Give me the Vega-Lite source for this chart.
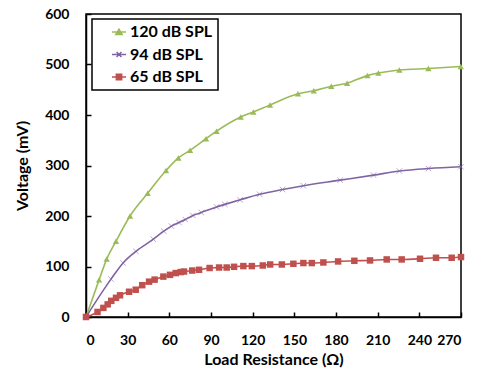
{
  "$schema": "https://vega.github.io/schema/vega-lite/v6.json",
  "width": 375,
  "height": 303,
  "autosize": {"type": "none"},
  "padding": {"left": 86, "top": 14, "right": 20, "bottom": 57},
  "background": "white",
  "config": {
    "font": "Lato",
    "view": {"stroke": "black", "strokeWidth": 1.5},
    "axis": {
      "grid": false,
      "domainColor": "black",
      "domainWidth": 1.5,
      "tickColor": "black",
      "tickWidth": 1.5,
      "tickSize": -5,
      "labelFont": "Lato",
      "labelFontWeight": "bold",
      "labelFontSize": 14,
      "labelColor": "black",
      "titleFont": "Lato",
      "titleFontWeight": "bold",
      "titleFontSize": 16,
      "titleColor": "black"
    }
  },
  "data": {
    "values": [
      {"R": 0, "V": 0, "series": "120 dB SPL"},
      {"R": 9.4, "V": 73.5, "series": "120 dB SPL"},
      {"R": 14.9, "V": 114.7, "series": "120 dB SPL"},
      {"R": 21.6, "V": 150, "series": "120 dB SPL"},
      {"R": 31.7, "V": 200, "series": "120 dB SPL"},
      {"R": 44.4, "V": 245, "series": "120 dB SPL"},
      {"R": 57.6, "V": 290, "series": "120 dB SPL"},
      {"R": 66.5, "V": 315, "series": "120 dB SPL"},
      {"R": 74.9, "V": 330, "series": "120 dB SPL"},
      {"R": 86.4, "V": 353, "series": "120 dB SPL"},
      {"R": 94, "V": 368, "series": "120 dB SPL"},
      {"R": 111.4, "V": 396, "series": "120 dB SPL"},
      {"R": 120.5, "V": 406, "series": "120 dB SPL"},
      {"R": 132.5, "V": 420, "series": "120 dB SPL"},
      {"R": 152.6, "V": 442, "series": "120 dB SPL"},
      {"R": 164, "V": 448, "series": "120 dB SPL"},
      {"R": 176.6, "V": 457, "series": "120 dB SPL"},
      {"R": 188, "V": 463, "series": "120 dB SPL"},
      {"R": 202.6, "V": 478, "series": "120 dB SPL"},
      {"R": 210.5, "V": 483, "series": "120 dB SPL"},
      {"R": 225.6, "V": 489, "series": "120 dB SPL"},
      {"R": 246.5, "V": 492, "series": "120 dB SPL"},
      {"R": 269.8, "V": 496, "series": "120 dB SPL"},

      {"R": 0, "V": 0, "series": "94 dB SPL"},
      {"R": 18, "V": 75, "series": "94 dB SPL"},
      {"R": 26.7, "V": 107, "series": "94 dB SPL"},
      {"R": 36, "V": 130, "series": "94 dB SPL"},
      {"R": 48.5, "V": 154, "series": "94 dB SPL"},
      {"R": 56, "V": 170, "series": "94 dB SPL"},
      {"R": 61.5, "V": 180, "series": "94 dB SPL"},
      {"R": 67, "V": 187, "series": "94 dB SPL"},
      {"R": 71.5, "V": 193, "series": "94 dB SPL"},
      {"R": 77, "V": 201, "series": "94 dB SPL"},
      {"R": 83, "V": 207, "series": "94 dB SPL"},
      {"R": 94, "V": 218, "series": "94 dB SPL"},
      {"R": 100, "V": 223, "series": "94 dB SPL"},
      {"R": 111, "V": 232, "series": "94 dB SPL"},
      {"R": 125, "V": 243, "series": "94 dB SPL"},
      {"R": 141.5, "V": 252.5, "series": "94 dB SPL"},
      {"R": 156.5, "V": 260, "series": "94 dB SPL"},
      {"R": 183, "V": 271, "series": "94 dB SPL"},
      {"R": 207, "V": 281, "series": "94 dB SPL"},
      {"R": 225.6, "V": 289, "series": "94 dB SPL"},
      {"R": 246.5, "V": 294, "series": "94 dB SPL"},
      {"R": 270, "V": 297.5, "series": "94 dB SPL"},

      {"R": 0, "V": 0, "series": "65 dB SPL"},
      {"R": 8.3, "V": 10, "series": "65 dB SPL"},
      {"R": 12.5, "V": 18, "series": "65 dB SPL"},
      {"R": 15.6, "V": 25, "series": "65 dB SPL"},
      {"R": 18.2, "V": 32, "series": "65 dB SPL"},
      {"R": 21.6, "V": 38, "series": "65 dB SPL"},
      {"R": 24.5, "V": 43, "series": "65 dB SPL"},
      {"R": 31, "V": 50, "series": "65 dB SPL"},
      {"R": 35.8, "V": 54, "series": "65 dB SPL"},
      {"R": 40.5, "V": 63, "series": "65 dB SPL"},
      {"R": 45.4, "V": 70, "series": "65 dB SPL"},
      {"R": 49.4, "V": 74, "series": "65 dB SPL"},
      {"R": 55.7, "V": 80, "series": "65 dB SPL"},
      {"R": 60.5, "V": 83.5, "series": "65 dB SPL"},
      {"R": 64.6, "V": 87, "series": "65 dB SPL"},
      {"R": 68.2, "V": 89, "series": "65 dB SPL"},
      {"R": 70.6, "V": 90, "series": "65 dB SPL"},
      {"R": 76.5, "V": 92, "series": "65 dB SPL"},
      {"R": 81.4, "V": 93.5, "series": "65 dB SPL"},
      {"R": 89, "V": 97, "series": "65 dB SPL"},
      {"R": 95.8, "V": 98, "series": "65 dB SPL"},
      {"R": 101.3, "V": 98, "series": "65 dB SPL"},
      {"R": 106.6, "V": 99.4, "series": "65 dB SPL"},
      {"R": 113.3, "V": 100.8, "series": "65 dB SPL"},
      {"R": 119.4, "V": 100.8, "series": "65 dB SPL"},
      {"R": 127.3, "V": 102, "series": "65 dB SPL"},
      {"R": 132.6, "V": 104, "series": "65 dB SPL"},
      {"R": 141, "V": 104, "series": "65 dB SPL"},
      {"R": 149.3, "V": 105.4, "series": "65 dB SPL"},
      {"R": 156.5, "V": 106.8, "series": "65 dB SPL"},
      {"R": 162.6, "V": 106.8, "series": "65 dB SPL"},
      {"R": 170.9, "V": 108, "series": "65 dB SPL"},
      {"R": 181.5, "V": 110, "series": "65 dB SPL"},
      {"R": 193.2, "V": 111.3, "series": "65 dB SPL"},
      {"R": 204.5, "V": 112, "series": "65 dB SPL"},
      {"R": 216.5, "V": 114, "series": "65 dB SPL"},
      {"R": 227.3, "V": 114, "series": "65 dB SPL"},
      {"R": 240.5, "V": 115.3, "series": "65 dB SPL"},
      {"R": 252, "V": 117.3, "series": "65 dB SPL"},
      {"R": 263.3, "V": 117.3, "series": "65 dB SPL"},
      {"R": 270, "V": 118.7, "series": "65 dB SPL"}
    ]
  },
  "encoding": {
    "x": {
      "field": "R", "type": "quantitative",
      "scale": {"domain": [0, 270], "nice": false},
      "axis": {"values": [0, 30, 60, 90, 120, 150, 180, 210, 240, 270], "title": "Load Resistance (Ω)", "labelPadding": 21, "titlePadding": 4}
    },
    "y": {
      "field": "V", "type": "quantitative",
      "scale": {"domain": [0, 600], "nice": false},
      "axis": {"values": [0, 100, 200, 300, 400, 500, 600], "title": "Voltage (mV)", "labelPadding": 22, "titlePadding": 14}
    },
    "color": {
      "field": "series", "type": "nominal",
      "scale": {"domain": ["120 dB SPL", "94 dB SPL", "65 dB SPL"], "range": ["#9BBB59", "#8064A2", "#C0504D"]}
    }
  },
  "layer": [
    {
      "mark": {"type": "line", "interpolate": "monotone", "strokeWidth": 1.6},
      "encoding": {
        "color": {
          "field": "series", "type": "nominal",
          "scale": {"domain": ["120 dB SPL", "94 dB SPL", "65 dB SPL"], "range": ["#9BBB59", "#8064A2", "#C0504D"]},
          "legend": {
            "title": null,
            "orient": "none",
            "legendX": 6,
            "legendY": 5,
            "strokeColor": "black",
            "fillColor": "white",
            "padding": 5,
            "symbolSize": 196,
            "symbolStrokeWidth": 1.5,
            "symbolOffset": 14,
            "labelFont": "Lato",
            "labelFontWeight": "bold",
            "labelFontSize": 16,
            "labelColor": "black",
            "labelOffset": 3,
            "rowPadding": 6.5,
            "encode": {
              "legend": {"update": {"strokeWidth": {"value": 1.5}}},
              "symbols": {
                "update": {
                  "shape": {"signal": "datum.value === '120 dB SPL' ? 'M-1,0H1M-0.45,0.35L0,-0.4L0.45,0.35Z' : datum.value === '94 dB SPL' ? 'M-1,0H1M-0.35,-0.35L0.35,0.35M-0.35,0.35L0.35,-0.35' : 'M-1,0H1M-0.38,-0.38H0.38V0.38H-0.38Z'"},
                  "fill": {"signal": "datum.value === '94 dB SPL' ? 'transparent' : scale('color', datum.value)"},
                  "stroke": {"signal": "scale('color', datum.value)"}
                }
              }
            }
          }
        }
      }
    },
    {
      "transform": [{"filter": "datum.series === '120 dB SPL'"}],
      "mark": {"type": "point", "shape": "triangle-up", "filled": true, "size": 40, "opacity": 1},
      "encoding": {"color": {"field": "series", "type": "nominal", "legend": null}}
    },
    {
      "transform": [{"filter": "datum.series === '94 dB SPL'"}],
      "mark": {"type": "point", "shape": "M-1,-1L1,1M-1,1L1,-1", "filled": false, "size": 30, "strokeWidth": 1, "opacity": 0.55},
      "encoding": {"color": {"field": "series", "type": "nominal", "legend": null}}
    },
    {
      "transform": [{"filter": "datum.series === '65 dB SPL'"}],
      "mark": {"type": "point", "shape": "square", "filled": true, "size": 42, "opacity": 1},
      "encoding": {"color": {"field": "series", "type": "nominal", "legend": null}}
    }
  ],
  "resolve": {"legend": {"color": "independent"}}
}
